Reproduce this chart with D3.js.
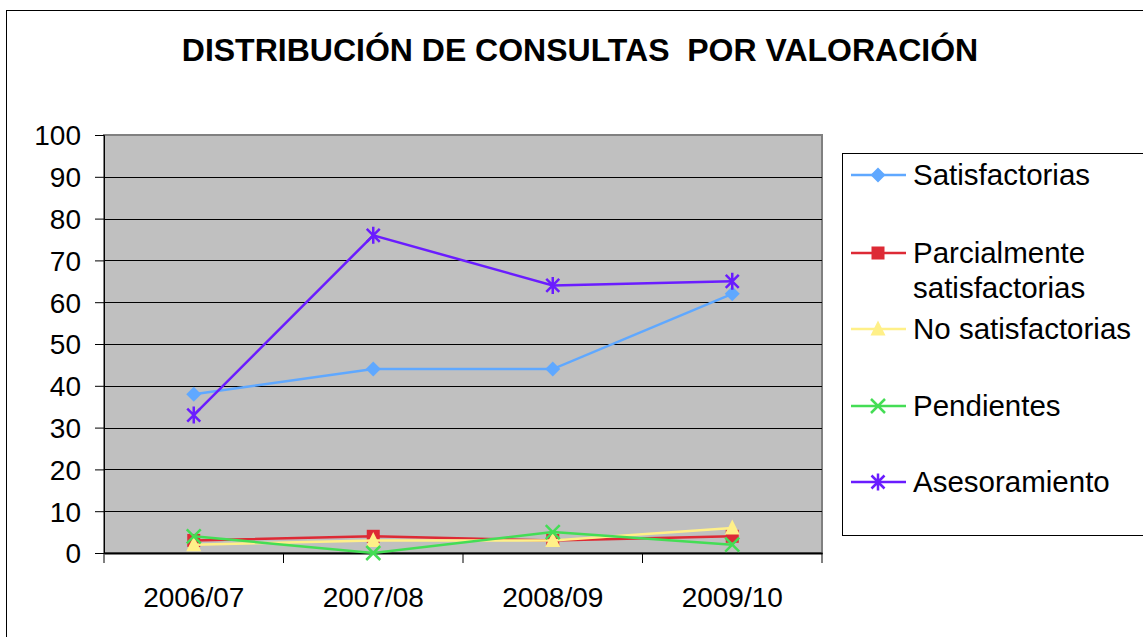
<!DOCTYPE html>
<html>
<head>
<meta charset="utf-8">
<script src="https://cdn.jsdelivr.net/npm/d3@7"></script>
<style>
  body { margin: 0; background: #fff; }
  svg text { font-family: "Liberation Sans", Arial, sans-serif; }
</style>
</head>
<body>
<svg id="chart"></svg>
<script>
// data
const periods = ["2006/07", "2007/08", "2008/09", "2009/10"];
const yTicks = [0, 10, 20, 30, 40, 50, 60, 70, 80, 90, 100];
const seriesNames = ["Satisfactorias", "Parcialmente satisfactorias", "No satisfactorias", "Pendientes", "Asesoramiento"];
const satisfactorias = [38, 44, 44, 62];
const parcialmente = [3, 4, 3, 4];
const noSatisfactorias = [2, 3, 3, 6];
const pendientes = [4, 0, 5, 2];
const asesoramiento = [33, 76, 64, 65];

const series = [
  { name: seriesNames[0], values: satisfactorias, color: "#5fa8ff", marker: "diamond" },
  { name: seriesNames[1], values: parcialmente, color: "#dd2a35", marker: "square" },
  { name: seriesNames[2], values: noSatisfactorias, color: "#fff088", marker: "triangle" },
  { name: seriesNames[3], values: pendientes, color: "#44dd55", marker: "x" },
  { name: seriesNames[4], values: asesoramiento, color: "#6a1cff", marker: "star" }
];

const W = 1143, H = 637;
const plot = { left: 104, top: 135, right: 822, bottom: 553 };

const svg = d3.select("#chart").attr("width", W).attr("height", H);

// outer chart frame (runs off the picture on right / bottom)
svg.append("rect")
    .attr("x", 6.5).attr("y", 10.5)
    .attr("width", W).attr("height", H)
    .attr("fill", "#fff").attr("stroke", "#000").attr("stroke-width", 1);

svg.append("text")
    .attr("x", 580).attr("y", 61)
    .attr("text-anchor", "middle")
    .style("font-size", "32px").style("font-weight", "bold")
    .style("white-space", "pre")
    .text("DISTRIBUCIÓN DE CONSULTAS  POR VALORACIÓN");

const x = d3.scaleBand().domain(periods).range([plot.left, plot.right]).padding(0);
const y = d3.scaleLinear().domain([0, 100]).range([plot.bottom, plot.top]);

// plot area
svg.append("rect")
    .attr("x", plot.left).attr("y", plot.top)
    .attr("width", plot.right - plot.left).attr("height", plot.bottom - plot.top)
    .attr("fill", "#c0c0c0").attr("stroke", "#808080").attr("stroke-width", 2);

svg.append("g").selectAll("line")
    .data(yTicks.filter(d => d > 0 && d < 100))
    .join("line")
    .attr("x1", plot.left).attr("x2", plot.right)
    .attr("y1", d => Math.round(y(d)) + 0.5).attr("y2", d => Math.round(y(d)) + 0.5)
    .attr("stroke", "#000").attr("stroke-width", 1);

// y axis
const yAxis = svg.append("g")
    .attr("transform", `translate(${plot.left},0)`)
    .call(d3.axisLeft(y).tickValues(yTicks).tickSize(9).tickPadding(14));
yAxis.select(".domain").attr("stroke", "#000");
yAxis.selectAll(".tick line").attr("stroke", "#000");
yAxis.selectAll("text").style("font-size", "28px").attr("fill", "#000").attr("dy", "0.35em");

// x axis: ticks on category boundaries
const xAxis = svg.append("g")
    .attr("transform", `translate(0,${plot.bottom})`)
    .call(d3.axisBottom(x).tickSize(0).tickPadding(34));
xAxis.select(".domain").attr("stroke", "#000").attr("stroke-width", 2);
xAxis.selectAll("text").style("font-size", "28px").attr("fill", "#000");
xAxis.selectAll(".bound")
    .data(d3.range(periods.length + 1))
    .join("line")
    .attr("class", "bound")
    .attr("x1", i => plot.left + i * x.bandwidth()).attr("x2", i => plot.left + i * x.bandwidth())
    .attr("y1", 0).attr("y2", 10)
    .attr("stroke", "#000");

function drawMarker(g, type, color) {
  if (type === "diamond") {
    g.append("path").attr("d", "M0,-7.5L7.5,0L0,7.5L-7.5,0Z").attr("fill", color);
  } else if (type === "square") {
    g.append("rect").attr("x", -6.5).attr("y", -6.5).attr("width", 13).attr("height", 13).attr("fill", color);
  } else if (type === "triangle") {
    g.append("path").attr("d", "M0,-8.5L7.5,6.5L-7.5,6.5Z").attr("fill", color);
  } else if (type === "x") {
    g.append("path").attr("d", "M-7,-7L7,7M-7,7L7,-7").attr("stroke", color).attr("stroke-width", 2.5).attr("fill", "none");
  } else if (type === "star") {
    g.append("path").attr("d", "M-6.5,-6.5L6.5,6.5M-6.5,6.5L6.5,-6.5M0,-8.5L0,8.5").attr("stroke", color).attr("stroke-width", 2.5).attr("fill", "none");
  }
}

const line = d3.line()
    .x((d, i) => x(periods[i]) + x.bandwidth() / 2)
    .y(d => y(d));

const lines = svg.append("g");
series.forEach(s => {
  lines.append("path")
      .datum(s.values)
      .attr("d", line)
      .attr("fill", "none")
      .attr("stroke", s.color)
      .attr("stroke-width", 2.5);
  s.values.forEach((v, i) => {
    const g = lines.append("g")
        .attr("transform", `translate(${x(periods[i]) + x.bandwidth() / 2},${y(v)})`);
    drawMarker(g, s.marker, s.color);
  });
});

// legend
const legend = svg.append("g");
legend.append("rect")
    .attr("x", 842.5).attr("y", 153.5)
    .attr("width", 400).attr("height", 382)
    .attr("fill", "#fff").attr("stroke", "#000").attr("stroke-width", 1);

const legendY = [175, 253, 329, 406, 482];
series.forEach((s, i) => {
  const g = legend.append("g").attr("transform", `translate(0,${legendY[i]})`);
  g.append("line").attr("x1", 851).attr("x2", 906).attr("y1", 0).attr("y2", 0)
      .attr("stroke", s.color).attr("stroke-width", 2.5);
  const m = g.append("g").attr("transform", "translate(878,0)");
  drawMarker(m, s.marker, s.color);
  const words = s.name === seriesNames[1] ? ["Parcialmente", "satisfactorias"] : [s.name];
  const t = g.append("text").attr("x", 913).attr("y", 0)
      .style("font-size", "29.5px").attr("fill", "#000");
  words.forEach((w, k) => {
    t.append("tspan").attr("x", 913).attr("dy", k === 0 ? "0.35em" : "1.18em").text(w);
  });
});
</script>
</body>
</html>
